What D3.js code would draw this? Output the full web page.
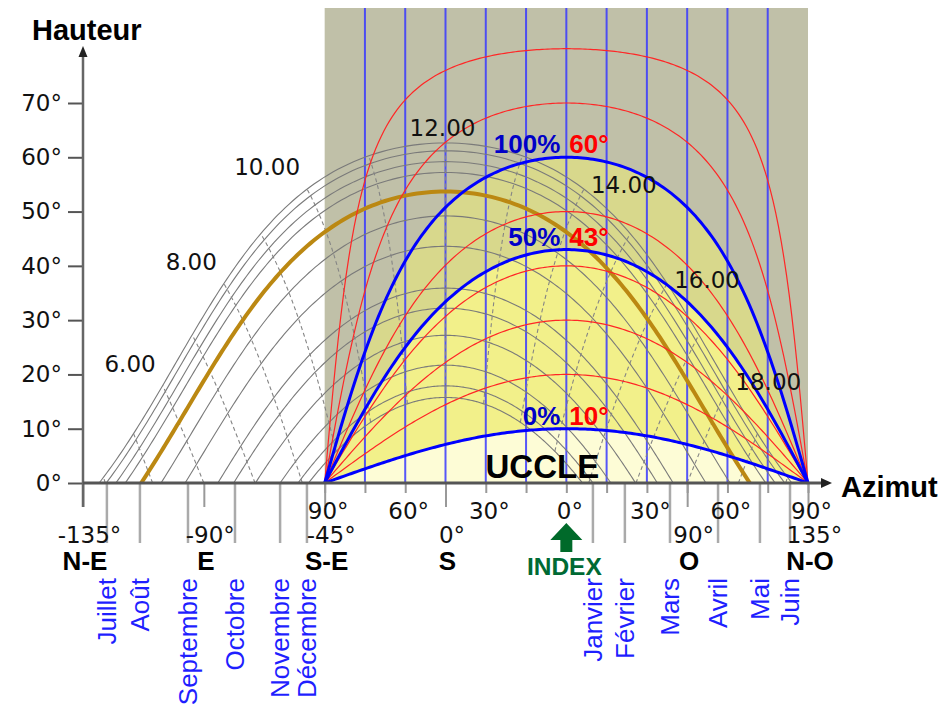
<!DOCTYPE html>
<html>
<head>
  <title>Diagramme solaire - Uccle</title>
  <meta charset="utf-8">
  <style>
  body { margin: 0; background: #fff; }
  svg text { font-family: "Liberation Sans", Arial, sans-serif; }
  .num { font-family: "DejaVu Sans", sans-serif; font-size: 23px; fill: #111; }
  .sunpath { fill: none; stroke: #7a7a7a; stroke-width: 1.1; }
  .hourline { fill: none; stroke: #858585; stroke-width: 1.1; stroke-dasharray: 4,3; }
  .marked { fill: none; stroke: #bb8812; stroke-width: 4; }
  .red { fill: none; stroke: #ff2626; stroke-width: 1.2; }
  .blue { fill: none; stroke: #0000ff; stroke-width: 3; }
  .vline { stroke: #3a3aff; stroke-width: 2; opacity: 0.85; }
  </style>
</head>
<body>
<svg width="945" height="706"></svg>
<script src="https://d3js.org/d3.v7.min.js"></script>
<script>

// Uccle
var latitude = 50.8;

// sun paths (declination, degrees)
var declinations = [23.44, 22.0, 20.0, 18.0, 10.0, 4.4, -3.3, -7.0, -12.0, -17.5, -21.3, -23.44];
var markedDeclination = 14.5;   // brown path

// solar hours drawn as dashed lines, and the labelled ones
var hours = [4, 5, 6, 7, 8, 9, 10, 11, 12, 13, 14, 15, 16, 17, 18, 19, 20];
var hourLabels = [6, 8, 10, 12, 14, 16, 18];

// window overlay: orientation and profile angles
var orientation = 45;
var redAngles = [20, 30, 40, 50, 70, 80];
var blueAngles = [10, 43, 60];
var blueLabels = ["0%", "50%", "100%"];

// axes
var altTicks = [0, 10, 20, 30, 40, 50, 60, 70];
var relTicks = [-90, -75, -60, -45, -30, -15, 0, 15, 30, 45, 60, 75, 90];
var relLabels = [-90, -60, -30, 0, 30, 60, 90];
var innerLines = [-75, -60, -45, -30, -15, 0, 15, 30, 45, 60, 75];
var azTicks = [-135, -90, -45, 0, 90, 135];
var compass = ["N-E", "E", "S-E", "S", "O", "N-O"];

// months: sunrise / sunset azimuth of the tick
var months = ["Juillet", "Août", "Septembre", "Octobre", "Novembre", "Décembre",
              "Janvier", "Février", "Mars", "Avril", "Mai", "Juin"];
var monthAz = [-126.1, -113.8, -95.9, -78.4, -61.6, -51.6,
               54.9, 66.8, 83.6, 101.5, 117.1, 128.3];

var svg = d3.select("svg");

var x = d3.scaleLinear().domain([-135, 135]).range([83, 808]);
var xRel = d3.scaleLinear().domain([-90, 90]).range([x(orientation - 90), x(orientation + 90)]);
var y = d3.scaleLinear().domain([0, 70]).range([483, 103]);
var y0 = y(0);

var rad = Math.PI / 180;

function sunPos(decl, H) {
  var p = latitude * rad, d = decl * rad, h = H * rad;
  var alt = Math.asin(Math.sin(p) * Math.sin(d) + Math.cos(p) * Math.cos(d) * Math.cos(h));
  var az = Math.atan2(Math.sin(h), Math.sin(p) * Math.cos(h) - Math.cos(p) * Math.tan(d));
  return [az / rad, Math.max(0, alt / rad)];
}

function sunPath(decl) {
  var H0 = Math.acos(-Math.tan(latitude * rad) * Math.tan(decl * rad)) / rad;
  var pts = [];
  for (var i = 0; i <= 200; i++) pts.push(sunPos(decl, -H0 + 2 * H0 * i / 200));
  return pts;
}

function hourLine(hr) {
  var H = (hr - 12) * 15;
  var dMin = Math.atan(-Math.cos(H * rad) / Math.tan(latitude * rad)) / rad;
  dMin = Math.max(dMin, -23.44);
  var pts = [];
  if (dMin >= 23.44) return pts;
  for (var i = 0; i <= 60; i++) pts.push(sunPos(dMin + (23.44 - dMin) * i / 60, H));
  return pts;
}

function profile(h0) {
  var pts = [];
  for (var a = -90; a <= 90; a += 1) {
    pts.push([a, Math.atan(Math.tan(h0 * rad) * Math.cos(a * rad)) / rad]);
  }
  return pts;
}

var azLine = d3.line().x(function(d) { return x(d[0]); }).y(function(d) { return y(d[1]); });
var relLine = d3.line().x(function(d) { return xRel(d[0]); }).y(function(d) { return y(d[1]); });
var relArea = d3.area().x(function(d) { return xRel(d[0]); }).y0(y0).y1(function(d) { return y(d[1]); });

// window overlay background
svg.append("rect")
    .attr("x", xRel(-90)).attr("y", 8)
    .attr("width", xRel(90) - xRel(-90)).attr("height", y0 - 8)
    .attr("fill", "#c0c0a8");

var fills = ["#d8d88c", "#f2f08a", "#fdfcd6"];
[60, 43, 10].forEach(function(a, i) {
  svg.append("path").attr("d", relArea(profile(a))).attr("fill", fills[i]);
});

svg.append("g").selectAll("line")
  .data(innerLines)
  .enter().append("line")
    .attr("class", "vline")
    .attr("x1", function(d) { return xRel(d); }).attr("x2", function(d) { return xRel(d); })
    .attr("y1", 8).attr("y2", y0);

// sun paths and hour lines
svg.append("g").selectAll("path")
  .data(declinations)
  .enter().append("path")
    .attr("class", "sunpath")
    .attr("d", function(d) { return azLine(sunPath(d)); });

svg.append("g").selectAll("path")
  .data(hours)
  .enter().append("path")
    .attr("class", "hourline")
    .attr("d", function(d) { var p = hourLine(d); return p.length ? azLine(p) : null; });

svg.append("path").attr("class", "marked").attr("d", azLine(sunPath(markedDeclination)));

// profile angle curves
svg.append("g").selectAll("path")
  .data(redAngles)
  .enter().append("path")
    .attr("class", "red")
    .attr("d", function(d) { return relLine(profile(d)); });

svg.append("g").selectAll("path")
  .data(blueAngles)
  .enter().append("path")
    .attr("class", "blue")
    .attr("d", function(d) { return relLine(profile(d)); });

// hour labels, at the June end of each hour line
svg.append("g").selectAll("text")
  .data(hourLabels)
  .enter().append("text")
    .attr("class", "num")
    .each(function(d) {
      var p = sunPos(23.44, (d - 12) * 15), t = d3.select(this);
      var px = x(p[0]), py = y(p[1]);
      if (d < 12) t.attr("x", px - 7).attr("y", py - 14).attr("text-anchor", "end");
      else if (d == 12) t.attr("x", px - 3).attr("y", py - 7).attr("text-anchor", "middle");
      else t.attr("x", px + 7).attr("y", py + 4).attr("text-anchor", "start");
    })
    .text(function(d) { return d + ".00"; });

// blue curve labels
blueAngles.forEach(function(a, i) {
  svg.append("text")
      .attr("x", xRel(0) - 6).attr("y", y(a) - 4)
      .attr("text-anchor", "end")
      .attr("font-size", 26).attr("font-weight", "bold").attr("fill", "#0000c8")
      .text(blueLabels[i]);
  svg.append("text")
      .attr("x", xRel(0) + 3).attr("y", y(a) - 4)
      .attr("font-size", 26).attr("font-weight", "bold").attr("fill", "#ff0000")
      .text(a + "°");
});

svg.append("text")
    .attr("x", xRel(0) - 24).attr("y", 478)
    .attr("text-anchor", "middle")
    .attr("font-size", 33).attr("font-weight", "bold")
    .text("UCCLE");

// month ticks and labels
svg.append("g").selectAll("line")
  .data(monthAz)
  .enter().append("line")
    .attr("x1", function(d) { return x(d); }).attr("x2", function(d) { return x(d); })
    .attr("y1", y0).attr("y2", 543)
    .attr("stroke", "#aaa").attr("stroke-width", 2.5);

svg.append("g").selectAll("text")
  .data(months)
  .enter().append("text")
    .attr("transform", function(d, i) { return "translate(" + x(monthAz[i]) + ",578) rotate(-90)"; })
    .attr("text-anchor", "end")
    .attr("dy", "0.35em")
    .attr("font-size", 26).attr("fill", "#1f1fff")
    .text(function(d) { return d; });

// azimuth axis (sun)
var azAxis = svg.append("g")
    .attr("transform", "translate(0," + y0 + ")")
    .call(d3.axisBottom(x).tickValues(azTicks).tickSize(24).tickPadding(20)
      .tickFormat(function(d) { return d + "°"; }));
azAxis.select(".domain").remove();
azAxis.selectAll("line").attr("stroke", "#999").attr("stroke-width", 2);
azAxis.selectAll("text").attr("class", "num").attr("dx", 6);

svg.append("g").selectAll("text")
  .data(compass)
  .enter().append("text")
    .attr("x", function(d, i) { return x(azTicks[i]); }).attr("y", 570)
    .attr("dx", 2)
    .attr("text-anchor", "middle")
    .attr("font-size", 26).attr("font-weight", "bold")
    .text(function(d) { return d; });

// window axis (relative)
var relAxis = svg.append("g")
    .attr("transform", "translate(0," + y0 + ")")
    .call(d3.axisBottom(xRel).tickValues(relTicks).tickSize(10).tickPadding(10)
      .tickFormat(function(d) { return relLabels.indexOf(d) >= 0 ? Math.abs(d) + "°" : ""; }));
relAxis.select(".domain").remove();
relAxis.selectAll("line").attr("stroke", "#999").attr("stroke-width", 2);
relAxis.selectAll("text").attr("class", "num").attr("dx", 3);

// index arrow
var ix = xRel(0);
svg.append("path")
    .attr("d", "M" + (ix - 16) + ",540L" + ix + ",523L" + (ix + 16) + ",540L" + (ix + 6) + ",540L" + (ix + 6) + ",552L" + (ix - 6) + ",552L" + (ix - 6) + ",540Z")
    .attr("fill", "#006a2a");
svg.append("text")
    .attr("x", ix - 2).attr("y", 575)
    .attr("text-anchor", "middle")
    .attr("font-size", 24.5).attr("font-weight", "bold").attr("fill", "#006a34")
    .text("INDEX");

// altitude axis
var altAxis = svg.append("g")
    .attr("transform", "translate(83,0)")
    .call(d3.axisLeft(y).tickValues(altTicks).tickSize(15).tickPadding(6)
      .tickFormat(function(d) { return d + "°"; }));
altAxis.select(".domain").remove();
altAxis.selectAll("line").attr("stroke", "#555").attr("stroke-width", 2);
altAxis.selectAll("text").attr("class", "num");

svg.append("line")
    .attr("x1", 83).attr("x2", 83).attr("y1", 54).attr("y2", 507)
    .attr("stroke", "#666").attr("stroke-width", 2.5);
svg.append("path").attr("d", "M83,46L78.5,57L87.5,57Z").attr("fill", "#222");

svg.append("line")
    .attr("x1", 83).attr("x2", 824).attr("y1", y0).attr("y2", y0)
    .attr("stroke", "#555").attr("stroke-width", 3);
svg.append("path").attr("d", "M832," + y0 + "L821," + (y0 - 5) + "L821," + (y0 + 5) + "Z").attr("fill", "#222");

svg.append("text")
    .attr("x", 32).attr("y", 40)
    .attr("font-size", 29).attr("font-weight", "bold")
    .text("Hauteur");

svg.append("text")
    .attr("x", 841).attr("y", 497)
    .attr("font-size", 29).attr("font-weight", "bold")
    .text("Azimut");

</script>
</body>
</html>
